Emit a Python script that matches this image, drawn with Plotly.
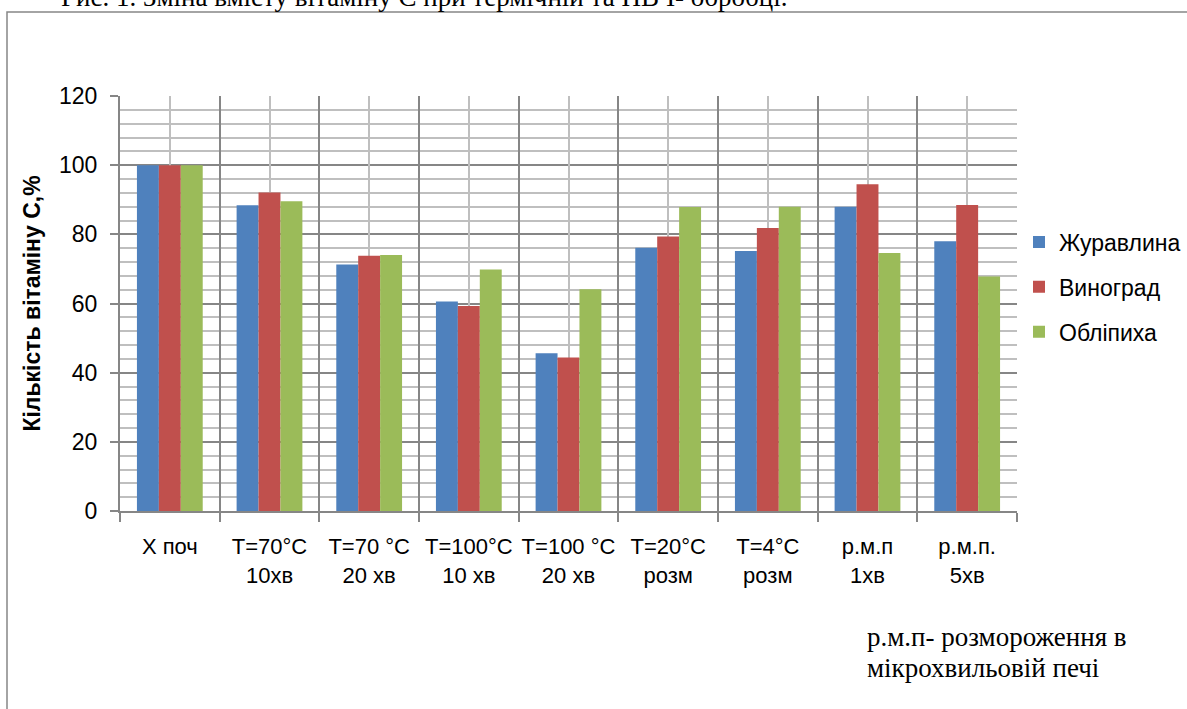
import plotly.graph_objects as go

categories = ["Х поч", "Т=70°C<br>10хв", "Т=70 °C<br>20 хв", "Т=100°C<br>10 хв",
              "Т=100 °C<br>20 хв", "Т=20°C<br>розм", "Т=4°C<br>розм", "р.м.п<br>1хв", "р.м.п.<br>5хв"]
zhuravlyna = [100, 88.4, 71.3, 60.6, 45.6, 76.1, 75.2, 88.0, 78.0]
vynohrad = [100, 92.1, 73.8, 59.3, 44.4, 79.4, 81.8, 94.5, 88.5]
oblipykha = [100, 89.6, 74.0, 69.8, 64.1, 87.9, 88.0, 74.6, 67.8]
series_names = ["Журавлина", "Виноград", "Обліпиха"]
colors = ["#4F81BD", "#C0504D", "#9BBB59"]

W, H = 1187, 709
ml, mr, mt, mb = 120, 170, 96, 198
pw, ph = W - ml - mr, H - mt - mb

font_sans = "Liberation Sans, Arial, sans-serif"
font_serif = "Liberation Serif, Times New Roman, serif"


def py(pix):
    """pixel row (from top) -> paper y"""
    return 1 - (pix - mt) / ph


def px(pix):
    return (pix - ml) / pw


fig = go.Figure()
for name, vals, col in zip(series_names, [zhuravlyna, vynohrad, oblipykha], colors):
    fig.add_trace(go.Bar(x=categories, y=vals, name=name, legendgroup=name,
                         marker=dict(color=col, line=dict(width=0))))

fig.update_layout(
    width=W, height=H,
    margin=dict(l=ml, r=mr, t=mt, b=mb, autoexpand=False),
    paper_bgcolor="white", plot_bgcolor="white",
    barmode="group", bargap=0.34, bargroupgap=0,
    font=dict(family=font_sans, size=21, color="black"),
    legend=dict(x=px(1019), y=py(287), xanchor="left", yanchor="middle",
                font=dict(size=23, family=font_sans), tracegroupgap=12,
                bgcolor="rgba(0,0,0,0)", itemwidth=30),
    xaxis=dict(type="category", tickson="boundaries", ticks="outside", ticklen=9,
               tickcolor="#868686", tickwidth=1.5, tickangle=0,
               showgrid=True, gridcolor="#868686", gridwidth=2,
               showline=True, linecolor="#868686", linewidth=2,
               ticklabelstandoff=15,
               tickfont=dict(size=22, family=font_sans), range=[-0.5, 8.5]),
    xaxis2=dict(overlaying="x", anchor="y", type="linear", range=[-0.5, 8.5],
                tick0=0, dtick=1, showgrid=True, gridcolor="#BFBFBF", gridwidth=2,
                showticklabels=False, ticks="", zeroline=False, showline=False),
    yaxis=dict(range=[0, 120], dtick=20, ticks="outside", ticklen=8, tickcolor="#868686",
               tickwidth=1.5, showgrid=True, gridcolor="#868686", gridwidth=2,
               showline=True, linecolor="#868686", linewidth=2, zeroline=False,
               ticklabelstandoff=8,
               minor=dict(dtick=4, showgrid=True, gridcolor="#BFBFBF", gridwidth=2, ticks=""),
               tickfont=dict(size=23, family=font_sans),
               title=dict(text="<b>Кількість вітаміну С,%</b>", font=dict(size=23, family=font_sans),
                          standoff=12)),
    showlegend=True,
)

# hidden helper trace so the overlay axis exists
fig.add_trace(go.Scatter(x=[0], y=[0], xaxis="x2", yaxis="y", mode="markers",
                         marker=dict(opacity=0), showlegend=False, hoverinfo="skip"))

# outer frame
fig.add_shape(type="rect", xref="paper", yref="paper",
              x0=px(7), x1=px(W + 10), y0=py(H + 10), y1=py(12),
              line=dict(color="#868686", width=1.5), fillcolor="rgba(0,0,0,0)", layer="below")

fig.add_annotation(text="Рис. 1. Зміна вмісту вітаміну С при термічній та НВЧ- обробці.",
                   xref="paper", yref="paper", x=px(59), y=py(-3),
                   xanchor="left", yanchor="middle", showarrow=False,
                   font=dict(family=font_serif, size=27, color="black"))

for txt, row in [("р.м.п- розмороження в", 637), ("мікрохвильовій печі", 668)]:
    fig.add_annotation(text=txt, xref="paper", yref="paper", x=px(865), y=py(row),
                       xanchor="left", yanchor="middle", showarrow=False, align="left",
                       font=dict(family=font_serif, size=27, color="black"))

fig.write_html("out.html", config={"displayModeBar": False},
               post_script="document.body.style.margin='0';document.body.style.overflow='hidden';")
